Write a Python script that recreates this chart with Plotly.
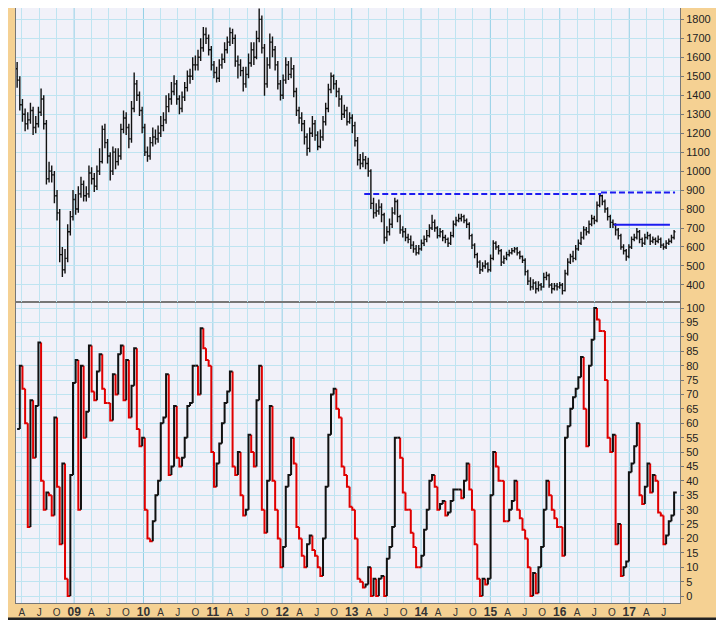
import pandas as pd
import plotly.graph_objects as go

# biweekly bars, Mar 2008 - Aug 2017
bar_dates = pd.date_range("2008-03-07", periods=248, freq="14D")

opens = [1540, 1480, 1350, 1300, 1250, 1270, 1320, 1230, 1250, 1310,
         1380, 1250, 960, 1000, 980, 870, 780, 560, 480, 540,
         680, 760, 850, 800, 880, 930, 870, 880, 990, 960,
         920, 1000, 1050, 1220, 1150, 1080, 1000, 1100, 1050, 1080,
         1220, 1280, 1230, 1170, 1330, 1460, 1400, 1320, 1230, 1100,
         1080, 1150, 1180, 1170, 1200, 1240, 1270, 1340, 1380, 1420,
         1460, 1380, 1330, 1390, 1440, 1500, 1500, 1560, 1560, 1600,
         1650, 1720, 1700, 1640, 1560, 1520, 1490, 1560, 1590, 1640,
         1680, 1730, 1700, 1580, 1560, 1530, 1460, 1510, 1570, 1640,
         1600, 1700, 1800, 1650, 1460, 1560, 1680, 1640, 1560, 1460,
         1400, 1480, 1560, 1510, 1540, 1420, 1320, 1280, 1250, 1180,
         1120, 1200, 1250, 1190, 1130, 1180, 1260, 1330, 1430, 1500,
         1460, 1420, 1380, 1300, 1320, 1260, 1280, 1240, 1160, 1060,
         1040, 1060, 1040, 1000, 830, 780, 790, 810, 770, 650,
         680, 720, 780, 840, 760, 690, 680, 650, 640, 610,
         590, 570, 590, 620, 640, 660, 700, 730, 700, 660,
         680, 650, 640, 620, 660, 720, 740, 750, 760, 740,
         720, 660, 610, 560, 520, 480, 500, 510, 480, 540,
         620, 600, 580, 520, 540, 560, 570, 580, 590, 570,
         550, 530, 470, 420, 390, 410, 380, 400, 390, 440,
         450, 400, 380, 395, 390, 400, 370, 460, 520, 550,
         540, 590, 620, 650, 690, 680, 720, 750, 740, 820,
         870, 840, 800, 760, 730, 720, 690, 660, 600, 580,
         550, 600, 640, 650, 680, 640, 620, 650, 660, 630,
         640, 630, 640, 610, 600, 620, 630, 650]

highs = [1575, 1500, 1380, 1330, 1310, 1360, 1340, 1290, 1340, 1435,
         1400, 1270, 1050, 1030, 1000, 900, 800, 600, 590, 720,
         790, 900, 880, 920, 970, 950, 920, 1030, 1020, 990,
         1030, 1120, 1240, 1250, 1170, 1100, 1130, 1120, 1120, 1250,
         1320, 1310, 1250, 1370, 1520, 1480, 1420, 1340, 1250, 1130,
         1180, 1230, 1220, 1240, 1290, 1310, 1400, 1410, 1470, 1505,
         1480, 1400, 1420, 1470, 1530, 1540, 1600, 1610, 1640, 1700,
         1760, 1757, 1720, 1660, 1580, 1550, 1590, 1620, 1680, 1710,
         1757, 1750, 1720, 1610, 1590, 1550, 1550, 1620, 1680, 1680,
         1740, 1858, 1820, 1670, 1600, 1725, 1710, 1660, 1580, 1480,
         1510, 1600, 1580, 1600, 1560, 1440, 1340, 1310, 1270, 1200,
         1230, 1290, 1270, 1210, 1220, 1290, 1360, 1460, 1520, 1510,
         1480, 1440, 1400, 1350, 1340, 1310, 1300, 1260, 1180, 1090,
         1100, 1080, 1070, 1010, 860, 830, 850, 830, 780, 710,
         750, 810, 860, 850, 770, 710, 700, 670, 660, 630,
         610, 610, 640, 660, 690, 720, 770, 745, 710, 700,
         690, 665, 650, 680, 740, 760, 775, 775, 770, 750,
         730, 670, 620, 570, 530, 520, 530, 520, 560, 635,
         630, 610, 590, 555, 575, 585, 595, 600, 600, 580,
         555, 540, 480, 440, 430, 420, 420, 410, 464, 470,
         460, 410, 410, 410, 415, 410, 480, 540, 565, 580,
         610, 640, 680, 710, 705, 740, 770, 765, 840, 885,
         875, 850, 810, 770, 745, 725, 700, 670, 615, 590,
         615, 655, 670, 700, 690, 650, 670, 680, 670, 655,
         650, 660, 650, 620, 635, 645, 665, 690]

lows = [1440, 1320, 1260, 1210, 1220, 1250, 1190, 1200, 1230, 1290,
        1220, 930, 940, 940, 830, 740, 520, 442, 460, 520,
        660, 740, 770, 780, 860, 840, 840, 860, 930, 890,
        900, 980, 1040, 1120, 1040, 950, 980, 1010, 1030, 1060,
        1200, 1190, 1120, 1150, 1310, 1370, 1290, 1200, 1080, 1050,
        1060, 1130, 1140, 1150, 1180, 1210, 1250, 1310, 1350, 1400,
        1350, 1300, 1310, 1370, 1420, 1460, 1480, 1530, 1530, 1580,
        1630, 1670, 1610, 1530, 1490, 1467, 1470, 1540, 1570, 1620,
        1660, 1670, 1550, 1488, 1500, 1420, 1440, 1490, 1550, 1560,
        1590, 1680, 1620, 1398, 1440, 1540, 1600, 1530, 1430, 1372,
        1380, 1460, 1480, 1490, 1390, 1290, 1250, 1210, 1140, 1081,
        1100, 1180, 1160, 1110, 1120, 1160, 1240, 1310, 1410, 1430,
        1390, 1340, 1270, 1280, 1240, 1250, 1200, 1130, 1030, 1010,
        1020, 1010, 970, 800, 750, 760, 770, 730, 617, 630,
        660, 700, 770, 730, 670, 650, 630, 620, 590, 570,
        555, 560, 580, 605, 625, 650, 690, 680, 645, 650,
        630, 620, 600, 610, 650, 710, 730, 735, 725, 700,
        640, 590, 540, 490, 458, 470, 485, 465, 470, 530,
        585, 560, 500, 510, 530, 550, 560, 570, 555, 535,
        515, 450, 400, 370, 375, 355, 365, 370, 385, 425,
        385, 355, 370, 370, 380, 350, 365, 450, 510, 520,
        530, 580, 610, 640, 660, 670, 710, 720, 730, 810,
        820, 780, 740, 700, 700, 660, 640, 585, 560, 527,
        540, 590, 630, 640, 620, 600, 610, 640, 610, 620,
        610, 620, 595, 585, 590, 610, 620, 640]

closes = [1480, 1350, 1300, 1250, 1270, 1320, 1230, 1250, 1310, 1380,
          1250, 960, 1000, 980, 870, 780, 560, 480, 540, 680,
          760, 850, 800, 880, 930, 870, 880, 990, 960, 920,
          1000, 1050, 1220, 1150, 1080, 1000, 1100, 1050, 1080, 1220,
          1280, 1230, 1170, 1330, 1460, 1400, 1320, 1230, 1100, 1080,
          1150, 1180, 1170, 1200, 1240, 1270, 1340, 1380, 1420, 1460,
          1380, 1330, 1390, 1440, 1500, 1500, 1560, 1560, 1600, 1650,
          1720, 1700, 1640, 1560, 1520, 1490, 1560, 1590, 1640, 1680,
          1730, 1700, 1580, 1560, 1530, 1460, 1510, 1570, 1640, 1600,
          1700, 1800, 1650, 1460, 1560, 1680, 1640, 1560, 1460, 1400,
          1480, 1560, 1510, 1540, 1420, 1320, 1280, 1250, 1180, 1120,
          1200, 1250, 1190, 1130, 1180, 1260, 1330, 1430, 1500, 1460,
          1420, 1380, 1300, 1320, 1260, 1280, 1240, 1160, 1060, 1040,
          1060, 1040, 1000, 830, 780, 790, 810, 770, 650, 680,
          720, 780, 840, 760, 690, 680, 650, 640, 610, 590,
          570, 590, 620, 640, 660, 700, 730, 700, 660, 680,
          650, 640, 620, 660, 720, 740, 750, 760, 740, 720,
          660, 610, 560, 520, 480, 500, 510, 480, 540, 620,
          600, 580, 520, 540, 560, 570, 580, 590, 570, 550,
          530, 470, 420, 390, 410, 380, 400, 390, 440, 450,
          400, 380, 395, 390, 400, 370, 460, 520, 550, 540,
          590, 620, 650, 690, 680, 720, 750, 740, 820, 870,
          840, 800, 760, 730, 720, 690, 660, 600, 580, 550,
          600, 640, 650, 680, 640, 620, 650, 660, 630, 640,
          630, 640, 610, 600, 620, 630, 650, 680]

# stepped oscillator, 0-100
oscillator = [58, 80, 72, 60, 24, 68, 48, 66, 88, 40,
              30, 36, 35, 28, 62, 38, 18, 46, 6, 0,
              42, 74, 82, 30, 80, 55, 64, 87, 71, 68,
              78, 84, 72, 67, 67, 61, 77, 70, 84, 87,
              68, 82, 62, 73, 86, 58, 52, 55, 30, 20,
              19, 26, 35, 40, 60, 62, 77, 42, 45, 66,
              48, 45, 48, 55, 66, 67, 80, 80, 70, 93,
              86, 82, 80, 50, 38, 46, 53, 60, 67, 71,
              78, 45, 42, 50, 35, 28, 30, 56, 50, 45,
              68, 80, 30, 22, 40, 66, 40, 30, 20, 10,
              17, 38, 42, 55, 46, 24, 20, 14, 10, 18,
              21, 16, 14, 10, 7, 20, 38, 56, 70, 72,
              65, 62, 45, 42, 38, 31, 30, 20, 6, 5,
              3, 4, 10, 0, 6, 0, 6, 7, 0, 13,
              17, 24, 55, 55, 48, 36, 30, 30, 22, 17,
              10, 10, 14, 23, 30, 40, 42, 38, 30, 32,
              33, 28, 29, 33, 37, 37, 37, 34, 40, 46,
              37, 30, 18, 6, 0, 6, 4, 6, 35, 50,
              45, 40, 40, 26, 26, 30, 33, 40, 30, 27,
              23, 20, 10, 0, 8, 1, 10, 17, 30, 40,
              35, 30, 27, 24, 24, 14, 55, 59, 65, 69,
              72, 76, 83, 65, 52, 80, 89, 100, 96, 92,
              92, 75, 55, 50, 56, 18, 25, 7, 10, 12,
              43, 46, 52, 60, 35, 32, 38, 46, 36, 42,
              40, 29, 28, 18, 21, 26, 28, 36]

# blue lines on the price panel
peak_line_dates = ["2013-03-08", "2016-08-05"]
peak_line_levels = [880, 880]
peak_line2_dates = ["2016-08-05", "2017-08-30"]
peak_line2_levels = [887, 887]
range_line_dates = ["2016-10-12", "2017-08-03"]
range_line_levels = [717, 717]

price_ticks = list(range(400, 1900, 100))
osc_ticks = list(range(0, 105, 5))
quarters = pd.date_range("2008-04-01", "2017-07-01", freq="QS")
month_letters = {4: "A", 7: "J", 10: "O"}
year_starts = pd.date_range("2009-01-01", "2017-01-01", freq="YS")
inner_quarters = [q for q in quarters if q.month != 1]

tick_text = []
for q in quarters:
    if q.month == 1:
        tick_text.append("<span style='font-size:12px'><b>%02d</b></span>" % (q.year % 100))
    else:
        tick_text.append(month_letters[q.month])

# split the step line into rising (black) and falling (red) pieces
seg = {"black": ([], []), "red": ([], [])}
colour = "black"
step = pd.Timedelta(days=14)
for k in range(len(oscillator)):
    prev = oscillator[k - 1] if k > 0 else oscillator[k]
    if oscillator[k] > prev:
        colour = "black"
    elif oscillator[k] < prev:
        colour = "red"
    x_end = bar_dates[k + 1] if k + 1 < len(bar_dates) else bar_dates[k] + step
    xs, ys = seg[colour]
    xs += [bar_dates[k], bar_dates[k], x_end, None]
    ys += [prev, oscillator[k], oscillator[k], None]

fig = go.Figure()

fig.add_trace(go.Ohlc(x=bar_dates, open=opens, high=highs, low=lows, close=closes,
                      xaxis="x2", yaxis="y2", tickwidth=0.5,
                      increasing=dict(line=dict(color="#111111", width=1.4)),
                      decreasing=dict(line=dict(color="#111111", width=1.4)),
                      showlegend=False, hoverinfo="skip"))

fig.add_trace(go.Scatter(x=peak_line_dates, y=peak_line_levels, xaxis="x2", yaxis="y2",
                         mode="lines", line=dict(color="#1c1cf0", width=2, dash="6px,3px"),
                         showlegend=False, hoverinfo="skip"))
fig.add_trace(go.Scatter(x=peak_line2_dates, y=peak_line2_levels, xaxis="x2", yaxis="y2",
                         mode="lines", line=dict(color="#1c1cf0", width=2, dash="6px,3px"),
                         showlegend=False, hoverinfo="skip"))
fig.add_trace(go.Scatter(x=range_line_dates, y=range_line_levels, xaxis="x2", yaxis="y2",
                         mode="lines", line=dict(color="#1c1cf0", width=2),
                         showlegend=False, hoverinfo="skip"))

fig.add_trace(go.Scatter(x=seg["red"][0], y=seg["red"][1], mode="lines",
                         line=dict(color="#e00000", width=2),
                         showlegend=False, hoverinfo="skip"))
fig.add_trace(go.Scatter(x=seg["black"][0], y=seg["black"][1], mode="lines",
                         line=dict(color="#111111", width=2),
                         showlegend=False, hoverinfo="skip"))

grid = "#bfe4f1"
year_grid = "#93d0e6"
frame = "#777777"
x_range = ["2008-03-01", "2017-09-25"]

common_x = dict(type="date", range=x_range, tickvals=list(quarters), showgrid=False,
                minor=dict(tickmode="array", tickvals=inner_quarters, showgrid=True,
                           gridcolor=grid, gridwidth=1, ticks=""),
                showline=True, linecolor=frame,
                mirror=True, ticks="", zeroline=False, rangeslider=dict(visible=False))
common_y = dict(side="right", showgrid=True, gridcolor=grid, gridwidth=1,
                showline=True, linecolor=frame, mirror=True, ticks="outside",
                ticklen=3, tickcolor=frame, zeroline=False,
                tickfont=dict(family="Liberation Sans", size=11, color="#222222"))

# the page sits 8px in from the window corner, so the figure is 8px smaller
split = 301 / 595
fig.update_layout(
    width=716, height=612,
    margin=dict(l=8, r=44, t=0, b=17),
    paper_bgcolor="#f5d193",
    plot_bgcolor="#f1f1f9",
    xaxis=dict(common_x, anchor="y", domain=[0, 1], ticktext=tick_text,
               tickfont=dict(family="Liberation Sans", size=10, color="#333333")),
    xaxis2=dict(common_x, anchor="y2", matches="x", showticklabels=False),
    yaxis=dict(common_y, domain=[0, split], range=[-2.4, 102.1], tickvals=osc_ticks),
    yaxis2=dict(common_y, domain=[split, 1], range=[310, 1860], tickvals=price_ticks),
)

# darker year lines in both panels
for ys in year_starts:
    fig.add_shape(type="line", xref="x", yref="y domain", x0=ys, x1=ys, y0=0, y1=1,
                  line=dict(color=year_grid, width=1), layer="below")
    fig.add_shape(type="line", xref="x2", yref="y2 domain", x0=ys, x1=ys, y0=0, y1=1,
                  line=dict(color=year_grid, width=1), layer="below")

# dark rule along the bottom edge
fig.add_shape(type="line", xref="paper", yref="paper",
              x0=-8 / 664, x1=1 + 44 / 664, y0=-16 / 595, y1=-16 / 595,
              line=dict(color="#222222", width=3), layer="above")

fig.write_html("out.html")
